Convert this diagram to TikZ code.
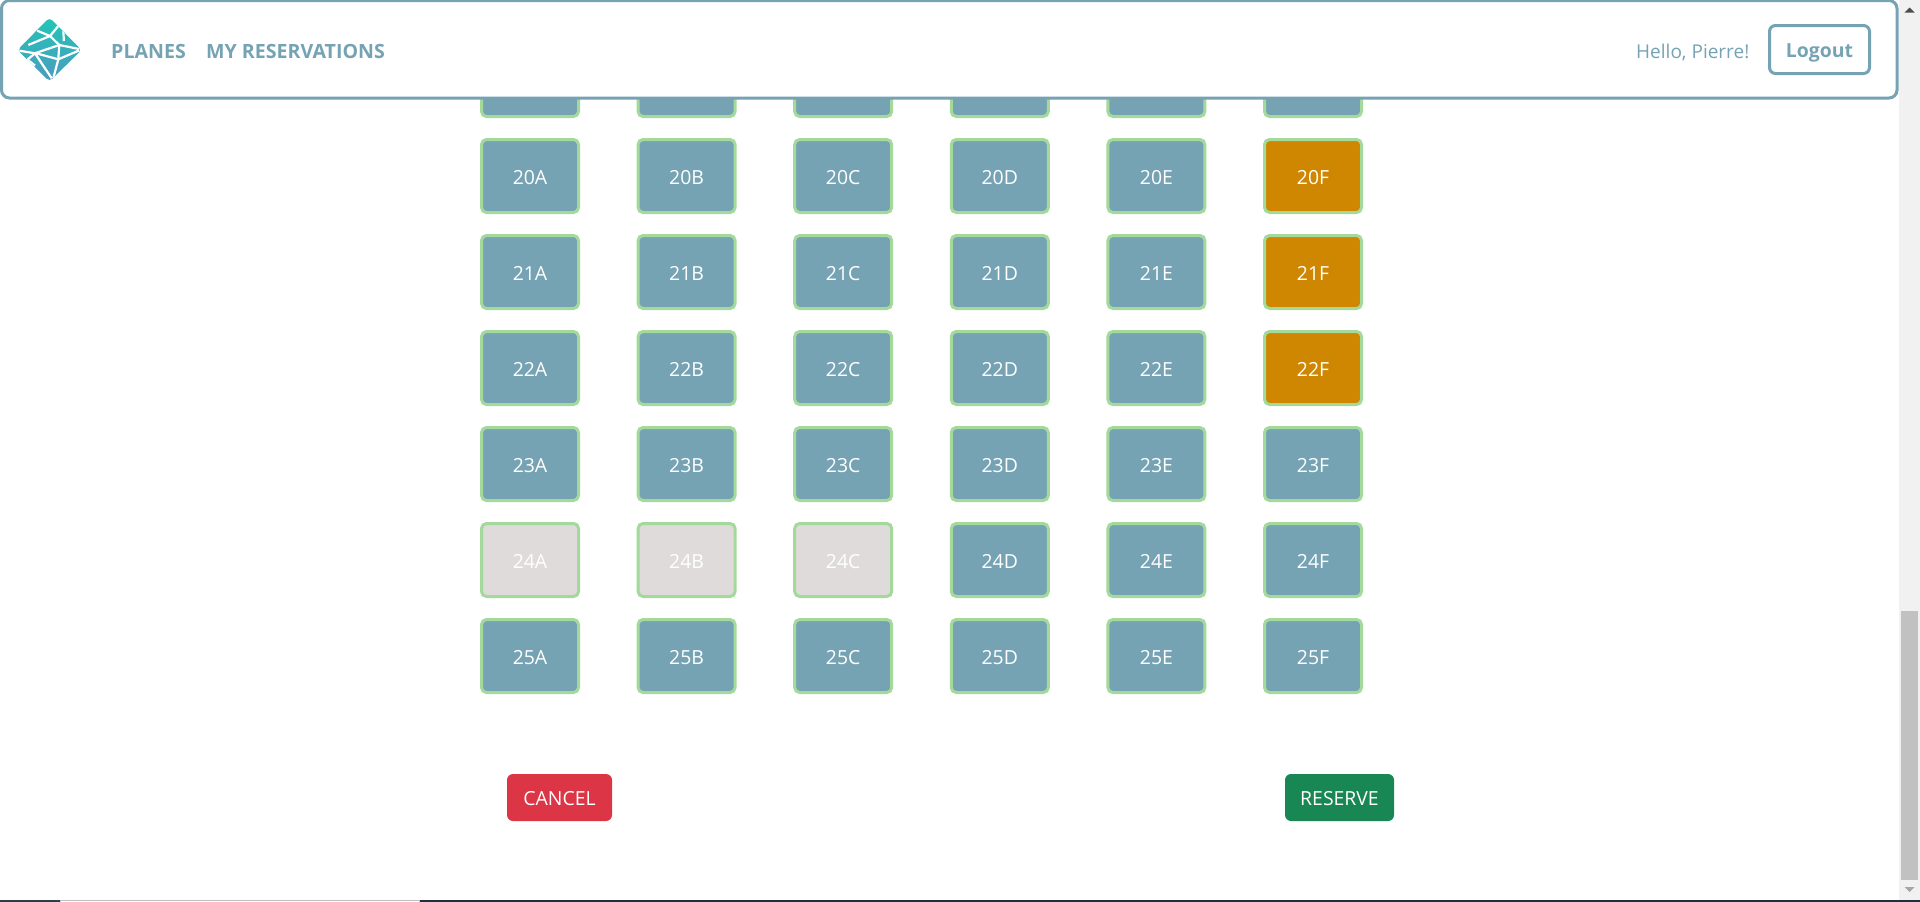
\documentclass[tikz,border=0pt]{standalone}
\usepackage{fontspec}
\setmainfont{Open Sans}
\definecolor{slate}{HTML}{76A3B4}
\definecolor{seatedge}{HTML}{A3D99A}
\definecolor{amber}{HTML}{CF8600}
\definecolor{greyseat}{HTML}{E0DBDB}
\definecolor{cancelred}{HTML}{DC3545}
\definecolor{reservegreen}{HTML}{198754}
\definecolor{trackgrey}{HTML}{F1F1F1}
\definecolor{thumbgrey}{HTML}{C1C1C1}
\definecolor{logotop}{HTML}{20C6B7}
\definecolor{logobot}{HTML}{4D9ABF}
\definecolor{stripa}{HTML}{27404A}
\definecolor{stripb}{HTML}{1E3040}
\tikzset{
  seatbox/.style={draw=seatedge,line width=3pt,rounded corners=5pt,fill=slate,minimum width=97pt,minimum height=73pt,inner sep=0pt,text=white,text height=16pt,text depth=0pt,font=\fontsize{19.4}{20}\selectfont},
  pickedseat/.style={seatbox,fill=amber},
  takenseat/.style={seatbox,fill=greyseat},
  actionbtn/.style={rounded corners=6pt,minimum height=47pt,inner sep=0pt,text=white,text height=16pt,text depth=0pt,font=\fontsize{19.4}{20}\selectfont},
  navtext/.style={text=slate,anchor=base west,inner sep=0pt,font=\fontsize{19.6}{20}\selectfont\bfseries},
  logoline/.style={draw=white,line width=2.2pt},
}
\begin{document}
\begin{tikzpicture}[x=1pt,y=-1pt]
\useasboundingbox (0,0) rectangle (1920,902);
\fill[white] (0,0) rectangle (1920,902);
% seats
\foreach \r/\ry in {19/80,20/176,21/272,22/368,23/464,24/560,25/656}{
  \foreach \c/\cx in {A/530,B/686.6,C/843.2,D/999.8,E/1156.4,F/1313}{
    \pgfmathtruncatemacro{\isorange}{(\r>=20)&&(\r<=22)&&(\cx>1300)}
    \pgfmathtruncatemacro{\isgrey}{(\r==24)&&(\cx<900)}
    \ifnum\isorange=1 \def\st{pickedseat}\else\ifnum\isgrey=1 \def\st{takenseat}\else\def\st{seatbox}\fi\fi
    \ifnum\r=19
      \node[\st] (seat\r\c) at (\cx,\ry) {};
    \else
      \node[\st] (seat\r\c) at (\cx,\ry) {\r\c};
    \fi
  }
}
% header
\draw[slate,line width=3pt,fill=white,rounded corners=8pt] (1.5,0.5) rectangle (1897,98);
% logo
\begin{scope}
  \clip[rounded corners=4pt] (49.5,17.5) -- (81.5,50) -- (49.5,81.5) -- (17.5,50) -- cycle;
  \shade[top color=logotop,bottom color=logobot] (15,17) rectangle (84,82);
  \draw[logoline] (19.3,50.7) -- (35,53.3) -- (59.3,45) -- (79,49);
  \draw[logoline] (35,53) -- (58.3,59.3) -- (79,50.5);
  \draw[logoline] (59.3,45) -- (58.3,59.3) -- (53.3,78.3);
  \draw[logoline] (35,53.3) -- (51.7,78.3);
  \draw[logoline] (35,53.3) -- (25,61.7);
  \draw[logoline] (37.3,30.7) -- (50,36) -- (59.3,45);
  \draw[logoline] (50,36) -- (60,24);
  \draw[logoline] (63.3,27) -- (63.8,41);
  \draw[logoline] (50,36) -- (28.3,45);
  \draw[logoline] (28,60) -- (35,65.5);
\end{scope}
\node[navtext] (planes) at (111,58) {PLANES};
\node[navtext] (myres) at (206,58) {MY RESERVATIONS};
\node[text=slate,anchor=base west,inner sep=0pt,font=\fontsize{19}{20}\selectfont] (hello) at (1636,58) {Hello, Pierre!};
\node[draw=slate,line width=3pt,rounded corners=6pt,fill=white,minimum width=100pt,minimum height=48pt,inner sep=0pt,text=slate,text height=16pt,text depth=0pt,font=\fontsize{19.4}{20}\selectfont\bfseries] (logout) at (1819.5,49.5) {Logout};
% action buttons
\node[actionbtn,fill=cancelred,minimum width=105pt] (cancel) at (559.5,797.5) {CANCEL};
\node[actionbtn,fill=reservegreen,minimum width=109pt] (reserve) at (1339.5,797.5) {RESERVE};
% scrollbar
\fill[trackgrey] (1899,0) rectangle (1920,900);
\fill[thumbgrey] (1901,611) rectangle (1918,880);
\fill[black!70] (1909.5,7.5) -- (1914.5,12.5) -- (1904.5,12.5) -- cycle;
\fill[black!35] (1904.5,887) -- (1914.5,887) -- (1909.5,892) -- cycle;
% taskbar strip
\fill[white!75!black] (60,900) rectangle (420,902);
\fill[white] (61,901) rectangle (419,902);
\fill[stripa] (0,900) rectangle (60,902);
\fill[stripb] (420,900) rectangle (1920,902);
\end{tikzpicture}
\end{document}
